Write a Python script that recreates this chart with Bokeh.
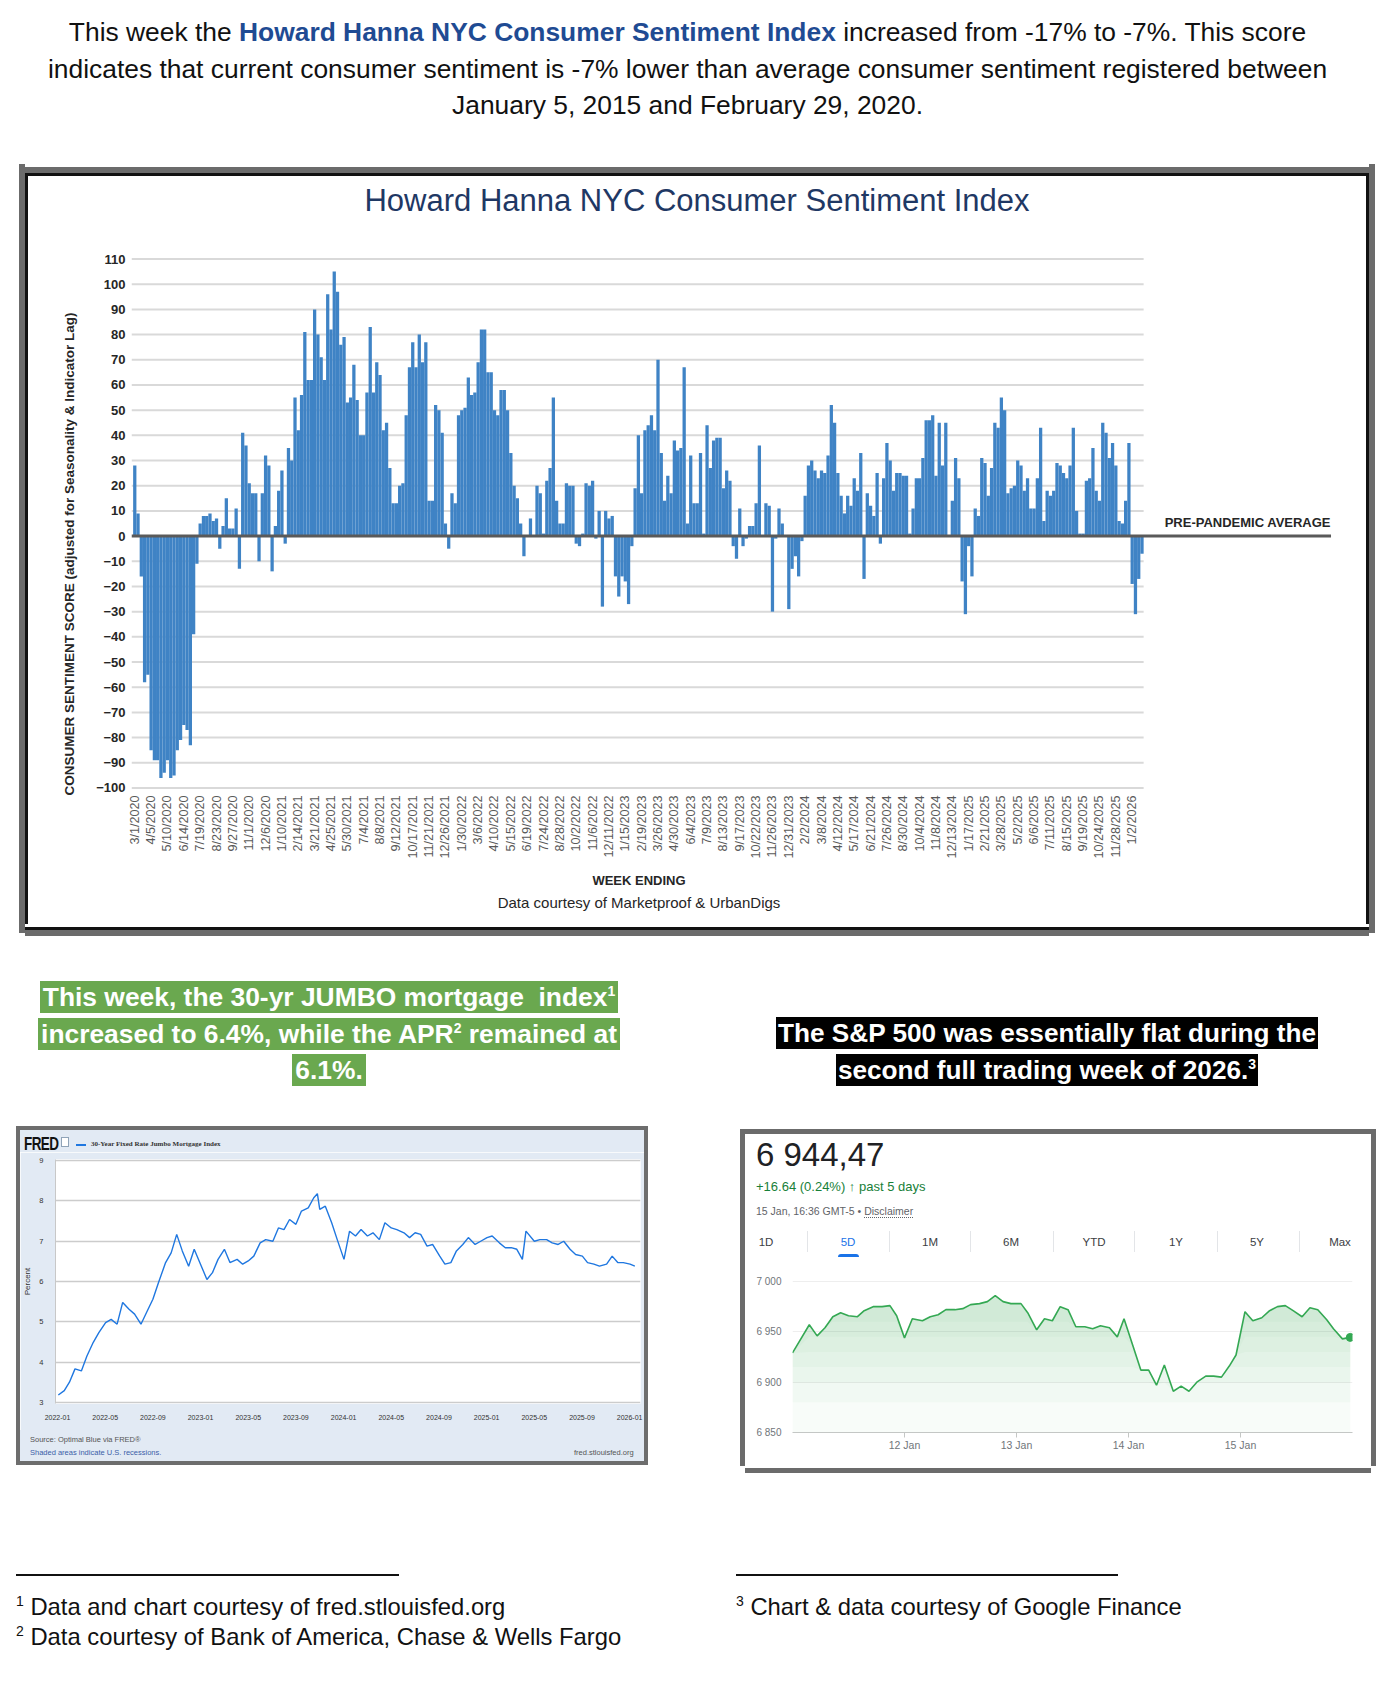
import numpy as np
from math import pi
from bokeh.plotting import figure
from bokeh.models import Div, Spacer, FixedTicker, Range1d, Title
from bokeh.layouts import column, row
from bokeh.embed import file_html
from bokeh.resources import INLINE
from bokeh.core.properties import value

FONT = "Liberation Sans"
CSSFONT = "'Liberation Sans', Arial, sans-serif"

# ---------------- data: Howard Hanna NYC Consumer Sentiment Index (weekly) ----------------
hh_scores = [
    28, 9, -16, -58, -55, -85, -89, -89, -96, -94, -89, -96, -95, -85, -81, -75, -77, -83, -39, -11,
    5, 8, 8, 9, 6, 7, -5, 4, 15, 3, 3, 11, -13, 41, 36, 21, 17, 17, -10, 17,
    32, 28, -14, 4, 18, 26, -3, 35, 30, 55, 42, 56, 81, 62, 62, 90, 80, 71, 62, 96,
    82, 105, 97, 76, 79, 53, 55, 68, 54, 40, 40, 57, 83, 57, 69, 64, 42, 45, 27, 13,
    13, 20, 21, 48, 67, 77, 67, 80, 69, 77, 14, 14, 52, 50, 41, 5, -5, 17, 13, 48,
    50, 51, 63, 56, 57, 69, 82, 82, 65, 65, 50, 48, 58, 58, 50, 33, 20, 15, 5, -8,
    0, 7, 0, 20, 17, 1, 22, 27, 55, 14, 5, 5, 21, 20, 20, -3, -4, 1, 21, 20,
    22, -1, 10, -28, 10, 7, 8, -16, -24, -16, -18, -27, -4, 19, 40, 17, 42, 44, 48, 42,
    70, 33, 14, 24, 17, 38, 34, 35, 67, 5, 32, 13, 13, 33, 1, 44, 27, 38, 39, 39,
    19, 26, 22, -4, -9, 11, -4, -1, 4, 4, 13, 36, 0, 13, 12, -30, -1, 11, 5, 0,
    -29, -13, -8, -16, -2, 16, 28, 30, 26, 23, 26, 25, 32, 52, 45, 25, 16, 9, 16, 12,
    23, 18, 33, -17, 17, 12, 8, 25, -3, 23, 37, 30, 18, 25, 25, 24, 24, 1, 11, 23,
    23, 31, 46, 46, 48, 24, 45, 28, 45, 0, 14, 31, 23, -18, -31, -4, -16, 11, 8, 31,
    29, 16, 27, 45, 43, 55, 50, 17, 19, 20, 30, 28, 18, 23, 11, 11, 23, 43, 6, 18,
    16, 18, 29, 28, 25, 23, 28, 43, 10, 1, 1, 22, 23, 35, 18, 14, 45, 41, 31, 37,
    28, 6, 5, 14, 37, -19, -31, -17, -7,
]
hh_week_labels = [
    "3/1/2020", "4/5/2020", "5/10/2020", "6/14/2020", "7/19/2020", "8/23/2020", "9/27/2020", "11/1/2020", "12/6/2020",
    "1/10/2021", "2/14/2021", "3/21/2021", "4/25/2021", "5/30/2021", "7/4/2021", "8/8/2021", "9/12/2021", "10/17/2021",
    "11/21/2021", "12/26/2021",
    "1/30/2022", "3/6/2022", "4/10/2022", "5/15/2022", "6/19/2022", "7/24/2022", "8/28/2022", "10/2/2022", "11/6/2022",
    "12/11/2022",
    "1/15/2023", "2/19/2023", "3/26/2023", "4/30/2023", "6/4/2023", "7/9/2023", "8/13/2023", "9/17/2023", "10/22/2023",
    "11/26/2023", "12/31/2023",
    "2/2/2024", "3/8/2024", "4/12/2024", "5/17/2024", "6/21/2024", "7/26/2024", "8/30/2024", "10/4/2024", "11/8/2024",
    "12/13/2024",
    "1/17/2025", "2/21/2025", "3/28/2025", "5/2/2025", "6/6/2025", "7/11/2025", "8/15/2025", "9/19/2025", "10/24/2025",
    "11/28/2025",
    "1/2/2026",
]
hh_y_ticks = list(range(-100, 111, 10))

# ---------------- data: FRED 30-Year Fixed Rate Jumbo Mortgage Index ----------------
fred_dates = [
    "2022-01-03", "2022-01-18", "2022-02-01", "2022-02-15", "2022-03-01", "2022-03-15", "2022-04-01", "2022-04-15",
    "2022-05-02", "2022-05-16", "2022-06-01", "2022-06-15", "2022-07-01", "2022-07-15", "2022-08-01", "2022-08-15",
    "2022-09-01", "2022-09-15", "2022-10-03", "2022-10-17", "2022-11-01", "2022-11-15", "2022-12-01", "2022-12-15",
    "2023-01-03", "2023-01-17", "2023-02-01", "2023-02-15", "2023-03-01", "2023-03-15", "2023-04-03", "2023-04-17",
    "2023-05-01", "2023-05-15", "2023-06-01", "2023-06-15", "2023-07-03", "2023-07-17", "2023-08-01", "2023-08-15",
    "2023-09-01", "2023-09-15", "2023-10-02", "2023-10-16", "2023-10-25", "2023-11-01", "2023-11-15", "2023-12-01",
    "2023-12-15",
    "2024-01-02", "2024-01-16", "2024-02-01", "2024-02-15", "2024-03-01", "2024-03-15", "2024-04-01", "2024-04-15",
    "2024-05-01", "2024-05-15", "2024-06-03", "2024-06-17", "2024-07-01", "2024-07-15", "2024-08-01", "2024-08-15",
    "2024-09-03", "2024-09-16", "2024-10-01", "2024-10-15", "2024-11-01", "2024-11-15", "2024-12-02", "2024-12-16",
    "2025-01-02", "2025-01-15", "2025-02-03", "2025-02-18", "2025-03-03", "2025-03-17", "2025-04-01", "2025-04-10",
    "2025-05-01", "2025-05-15", "2025-06-02", "2025-06-16", "2025-07-01", "2025-07-15", "2025-08-01", "2025-08-15",
    "2025-09-02", "2025-09-15", "2025-10-01", "2025-10-15", "2025-11-03", "2025-11-17", "2025-12-01", "2025-12-15",
    "2026-01-02", "2026-01-14",
]
fred_rates = [
    3.18, 3.29, 3.50, 3.83, 3.78, 4.15, 4.49, 4.73,
    4.98, 5.06, 4.94, 5.48, 5.31, 5.19, 4.94, 5.23,
    5.56, 5.97, 6.47, 6.71, 7.17, 6.76, 6.38, 6.80,
    6.38, 6.05, 6.22, 6.55, 6.80, 6.47, 6.55, 6.43,
    6.51, 6.63, 6.96, 7.04, 7.00, 7.33, 7.29, 7.54,
    7.42, 7.75, 7.83, 8.08, 8.18, 7.79, 7.87, 7.46,
    7.04,
    6.55, 7.25, 7.13, 7.29, 7.13, 7.21, 7.04, 7.46,
    7.33, 7.29, 7.21, 7.09, 7.21, 7.17, 6.88, 6.92,
    6.63, 6.43, 6.47, 6.76, 6.92, 7.09, 6.92, 7.00,
    7.09, 7.13, 6.96, 6.84, 6.84, 6.80, 6.55, 7.25,
    7.00, 7.04, 7.04, 6.96, 6.92, 7.00, 6.80, 6.67,
    6.63, 6.47, 6.43, 6.38, 6.43, 6.63, 6.47, 6.47,
    6.43, 6.38,
]
fred_tick_labels = ["2022-01", "2022-05", "2022-09", "2023-01", "2023-05", "2023-09", "2024-01", "2024-05",
                    "2024-09", "2025-01", "2025-05", "2025-09", "2026-01"]
fred_y_ticks = [3, 4, 5, 6, 7, 8, 9]

# ---------------- data: S&P 500, 5 days (trading-day position, index level) ----------------
spx_day = [0.0, 0.15, 0.22, 0.29, 0.36, 0.43, 0.5, 0.58, 0.64, 0.72,
           0.8, 0.87, 0.93, 1.0, 1.07, 1.16, 1.23, 1.3, 1.37, 1.45,
           1.52, 1.59, 1.67, 1.74, 1.81, 1.88, 1.95, 2.04, 2.1, 2.18,
           2.25, 2.32, 2.39, 2.46, 2.53, 2.61, 2.68, 2.75, 2.83, 2.9,
           2.96, 3.04, 3.11, 3.18, 3.25, 3.32, 3.4, 3.47, 3.54, 3.61,
           3.69, 3.76, 3.83, 3.9, 3.96, 4.04, 4.11, 4.19, 4.26, 4.33,
           4.4, 4.47, 4.55, 4.62, 4.69, 4.77, 4.83, 4.91, 4.98]
spx_value = [6929, 6957, 6946, 6954, 6965, 6969, 6966, 6965, 6971, 6975,
             6975, 6976, 6966, 6944, 6963, 6961, 6965, 6967, 6972, 6972,
             6973, 6977, 6978, 6980, 6986, 6980, 6978, 6978, 6969, 6952,
             6963, 6961, 6975, 6972, 6955, 6955, 6953, 6956, 6954, 6945,
             6963, 6936, 6912, 6912, 6897, 6917, 6891, 6896, 6891, 6900,
             6906, 6906, 6905, 6916, 6927, 6970, 6961, 6964, 6971, 6975,
             6976, 6971, 6965, 6974, 6972, 6962, 6953, 6943, 6944.47]
spx_day_ticks = [1, 2, 3, 4]
spx_day_labels = ["12 Jan", "13 Jan", "14 Jan", "15 Jan"]
spx_y_ticks = [6850, 6900, 6950, 7000]
spx_y_labels = ["6 850", "6 900", "6 950", "7 000"]
spx_tabs = ["1D", "5D", "1M", "6M", "YTD", "1Y", "5Y", "Max"]


# ---------------- helpers ----------------
def solid(w, h, color):
    return Div(text=f'<div style="width:{w}px;height:{h}px;background:{color};"></div>',
               width=w, height=h, margin=0)


def strip(w, layers):
    h = sum(t for t, _ in layers)
    inner = "".join(f'<div style="width:{w}px;height:{t}px;background:{c};"></div>' for t, c in layers)
    return Div(text=f'<div style="width:{w}px;height:{h}px;">{inner}</div>', width=w, height=h, margin=0)


def html(text, w, h):
    return Div(text=text, width=w, height=h, margin=0)


GREY = "#6b6b6b"

# ---------------- top paragraph ----------------
top_div = html(
    f'<div style="width:1359px;text-align:center;font-family:{CSSFONT};font-size:26.4px;line-height:36.5px;'
    f'color:#111;padding-top:6px;">This week the <span style="color:#1f4b93;font-weight:bold">Howard Hanna NYC '
    f'Consumer Sentiment Index</span> increased from -17% to -7%. This score<br>indicates that current consumer '
    f'sentiment is -7% lower than average consumer sentiment registered between<br>January 5, 2015 and February '
    f'29, 2020.</div>', 1376, 156)

# ---------------- Howard Hanna chart ----------------
n = len(hh_scores)
idx = list(range(n))
x_lo = -1.0
bars_end = n - 0.5
label_end = n + 56.8

p = figure(width=1338, height=627, x_range=Range1d(x_lo, n + 59.7), y_range=Range1d(-101, 111),
           output_backend="svg", toolbar_location=None, min_border_left=103, min_border_right=26,
           min_border_top=13, min_border_bottom=80, outline_line_color=None,
           background_fill_color="white", border_fill_color="white", margin=0)
p.xgrid.visible = False
p.ygrid.visible = False
grid_vals = [v for v in hh_y_ticks if v != 0]
p.segment(x0=[x_lo] * len(grid_vals), x1=[bars_end] * len(grid_vals), y0=grid_vals, y1=grid_vals,
          line_color="#d9d9d9", line_width=2)
p.vbar(x=idx, top=hh_scores, bottom=0, width=1.0, fill_color="#3f83c5", line_color=None)
p.segment(x0=[x_lo], x1=[label_end], y0=[0], y1=[0], line_color="#5a5a5a", line_width=3)
p.text(x=[label_end], y=[2.3], text=["PRE-PANDEMIC AVERAGE"], text_align="right", text_baseline="bottom",
       text_font=value(FONT), text_font_size="13px", text_font_style="bold", text_color="#262626")

ya = p.yaxis[0]
ya.ticker = FixedTicker(ticks=hh_y_ticks, minor_ticks=[])
ya.axis_line_color = None
ya.major_tick_line_color = None
ya.minor_tick_line_color = None
ya.major_tick_out = 0
ya.major_tick_in = 0
ya.major_label_standoff = 6
ya.major_label_text_font = FONT
ya.major_label_text_font_size = "13px"
ya.major_label_text_font_style = "bold"
ya.major_label_text_color = "#262626"

ytitle = Title(text="CONSUMER SENTIMENT SCORE (adjusted for Seasonality & Indicator Lag)",
               align="left", offset=-5, standoff=33, text_font=FONT, text_font_size="13.5px",
               text_font_style="bold", text_color="#262626")
p.add_layout(ytitle, "left")

xa = p.xaxis[0]
tick_pos = [i * 5 for i in range(len(hh_week_labels))]
xa.ticker = FixedTicker(ticks=tick_pos, minor_ticks=[])
xa.major_label_overrides = {t: lab for t, lab in zip(tick_pos, hh_week_labels)}
xa.major_label_orientation = pi / 2
xa.axis_line_color = None
xa.major_tick_line_color = None
xa.minor_tick_line_color = None
xa.major_tick_out = 0
xa.major_tick_in = 0
xa.major_label_standoff = 5
xa.major_label_text_font = FONT
xa.major_label_text_font_size = "12.6px"
xa.major_label_text_color = "#595959"

hh_title = html(
    f'<div style="width:1338px;text-align:center;font-family:{CSSFONT};font-size:31px;line-height:36px;'
    f'color:#1f3864;padding-top:10px;">Howard Hanna NYC Consumer Sentiment Index</div>', 1338, 70)
hh_caption = html(
    f'<div style="width:1222px;text-align:center;font-family:{CSSFONT};color:#262626;">'
    f'<div style="font-size:13px;font-weight:bold;line-height:22px;">WEEK ENDING</div>'
    f'<div style="font-size:15px;line-height:22px;">Data courtesy of Marketproof &amp; UrbanDigs</div></div>',
    1338, 54)
hh_inner = column(hh_title, p, hh_caption, spacing=0, margin=0)
hh_mid = column(
    strip(1344, [(6, GREY), (3, "#111111")]),
    row(solid(3, 751, "#111111"), hh_inner, solid(3, 751, "#111111"), spacing=0, margin=0),
    strip(1344, [(3, "#111111"), (6, GREY)]),
    spacing=0, margin=0)
hh_box = row(solid(6, 769, GREY), hh_mid, solid(6, 769, GREY), spacing=0, margin=0)

# ---------------- green / black headlines ----------------
green_div = html(
    f'<div style="width:642px;text-align:center;font-family:{CSSFONT};font-weight:bold;font-size:26.4px;'
    f'line-height:36.5px;color:#fff;padding-top:46px;">'
    f'<span style="background:#6aa84f;padding:1px 3px;">This week, the 30-yr JUMBO mortgage&nbsp; index'
    f'<sup style="font-size:14px;line-height:0;">1</sup></span><br>'
    f'<span style="background:#6aa84f;padding:1px 3px;">increased to 6.4%, while the APR'
    f'<sup style="font-size:14px;line-height:0;">2</sup> remained at</span><br>'
    f'<span style="background:#6aa84f;padding:1px 3px;">6.1%.</span></div>', 642, 193)

black_div = html(
    f'<div style="width:630px;text-align:center;font-family:{CSSFONT};font-weight:bold;font-size:26.2px;'
    f'line-height:36.5px;color:#fff;padding-top:82px;">'
    f'<span style="background:#000;padding:1px 2px;">The S&amp;P 500 was essentially flat during the</span><br>'
    f'<span style="background:#000;padding:1px 2px;">second full trading week of 2026.'
    f'<sup style="font-size:14px;line-height:0;">3</sup></span></div>', 630, 196)

# ---------------- FRED chart ----------------
FRED_BG = "#e2eaf4"
FGREY = "#6d6d6d"
fx = [(int(d[:4]) - 2022) * 12 + int(d[5:7]) - 1 + (int(d[8:10]) - 1) / 30.0 for d in fred_dates]
f = figure(width=624, height=278, x_range=Range1d(-0.17, 48.91), y_range=Range1d(2.97, 9.03),
           output_backend="svg", toolbar_location=None, min_border_left=32, min_border_right=4,
           min_border_top=7, min_border_bottom=27, outline_line_color=None,
           background_fill_color="white", border_fill_color=FRED_BG, margin=0)
f.line(fx, fred_rates, line_color="#1f77e0", line_width=1.4)
f.xgrid.visible = False
fya = f.yaxis[0]
fya.ticker = FixedTicker(ticks=fred_y_ticks, minor_ticks=[])
f.ygrid.grid_line_color = "#cccccc"
f.ygrid.grid_line_width = 1.5
fya.axis_line_color = "#c8c8c8"
fya.major_tick_line_color = None
fya.major_tick_out = 0
fya.major_tick_in = 0
fya.major_label_standoff = 12
fya.major_label_text_font = FONT
fya.major_label_text_font_size = "7.5px"
fya.major_label_text_color = "#333333"
fya.axis_label = "Percent"
fya.axis_label_text_font = FONT
fya.axis_label_text_font_size = "8px"
fya.axis_label_text_font_style = "normal"
fya.axis_label_text_color = "#333333"
fya.axis_label_standoff = 4
fxa = f.xaxis[0]
fticks = [i * 4 for i in range(len(fred_tick_labels))]
fxa.ticker = FixedTicker(ticks=fticks, minor_ticks=[])
fxa.major_label_overrides = {t: lab for t, lab in zip(fticks, fred_tick_labels)}
fxa.axis_line_color = None
fxa.major_tick_line_color = None
fxa.major_tick_out = 0
fxa.major_tick_in = 0
fxa.major_label_standoff = 11
fxa.major_label_text_font = FONT
fxa.major_label_text_font_size = "7px"
fxa.major_label_text_color = "#333333"

fred_head = html(
    f'<div style="position:relative;width:624px;height:26px;background:{FRED_BG};font-family:{CSSFONT};">'
    f'<div style="position:absolute;left:0;top:0;width:624px;height:4px;background:{FGREY};"></div>'
    f'<div style="position:absolute;left:4px;top:8px;font-size:13.5px;line-height:15px;font-weight:bold;'
    f'letter-spacing:-0.6px;color:#111;transform:scaleY(1.3);transform-origin:0 0;">FRED</div>'
    f'<div style="position:absolute;left:41px;top:11px;width:8px;height:10px;border:1px solid #8fa3b8;'
    f'background:#fff;"></div>'
    f'<div style="position:absolute;left:56px;top:18px;width:10px;height:2px;background:#1f77e0;"></div>'
    f'<div style="position:absolute;left:71px;top:13px;font-family:\'Liberation Serif\',serif;font-weight:bold;'
    f'font-size:7px;line-height:10px;color:#333;white-space:nowrap;">30-Year Fixed Rate Jumbo Mortgage Index</div>'
    f'</div>', 624, 26)
fred_foot = html(
    f'<div style="position:relative;width:624px;height:35px;background:{FRED_BG};font-family:{CSSFONT};'
    f'font-size:7.5px;line-height:10px;white-space:nowrap;">'
    f'<div style="position:absolute;left:10px;top:5px;color:#555;">Source: Optimal Blue via FRED&reg;</div>'
    f'<div style="position:absolute;left:10px;top:18px;color:#3b5ea8;">Shaded areas indicate U.S. recessions.</div>'
    f'<div style="position:absolute;left:554px;top:18px;color:#555;">fred.stlouisfed.org</div>'
    f'<div style="position:absolute;left:0;top:31px;width:624px;height:4px;background:{FGREY};"></div>'
    f'</div>', 624, 35)
fred_inner = column(fred_head, f, fred_foot, spacing=0, margin=0)
fred_box = row(solid(4, 339, FGREY), fred_inner, solid(4, 339, FGREY), spacing=0, margin=0)

# ---------------- Google Finance chart ----------------
g = figure(width=626, height=199, x_range=Range1d(0, 5.0), y_range=Range1d(6850, 7011.9),
           output_backend="svg", toolbar_location=None, min_border_left=47, min_border_right=19,
           min_border_top=7, min_border_bottom=29, outline_line_color=None,
           background_fill_color="white", border_fill_color="white", margin=0)
sv = np.array(spx_value, dtype=float)
for lvl in [6850, 6880, 6900, 6915, 6930, 6945, 6960]:
    g.varea(x=spx_day, y1=sv, y2=np.minimum(sv, lvl), fill_color="#34a853", fill_alpha=0.035)
g.line(spx_day, spx_value, line_color="#34a853", line_width=1.6)
g.scatter([spx_day[-1]], [spx_value[-1]], size=8, fill_color="#34a853", line_color="#34a853")
g.xgrid.visible = False
gya = g.yaxis[0]
gya.ticker = FixedTicker(ticks=spx_y_ticks, minor_ticks=[])
gya.major_label_overrides = {t: lab for t, lab in zip(spx_y_ticks, spx_y_labels)}
g.ygrid.grid_line_color = "#eeeeee"
g.ygrid.grid_line_width = 1
gya.axis_line_color = None
gya.major_tick_line_color = None
gya.major_tick_out = 0
gya.major_tick_in = 0
gya.major_label_standoff = 11
gya.major_label_text_font = FONT
gya.major_label_text_font_size = "10px"
gya.major_label_text_color = "#70757a"
gxa = g.xaxis[0]
gxa.ticker = FixedTicker(ticks=spx_day_ticks, minor_ticks=[])
gxa.major_label_overrides = {t: lab for t, lab in zip(spx_day_ticks, spx_day_labels)}
gxa.axis_line_color = "#c4c7c5"
gxa.major_tick_line_color = "#c4c7c5"
gxa.major_tick_in = 0
gxa.major_tick_out = 5
gxa.major_label_standoff = 1
gxa.major_label_text_font = FONT
gxa.major_label_text_font_size = "10.5px"
gxa.major_label_text_color = "#70757a"

tab_centers = [21, 103, 185, 266, 349, 431, 512, 595]
sep_lefts = [62, 144, 225, 308, 389, 472, 554]
T = 5
tabs_html = ""
for lab, cx in zip(spx_tabs, tab_centers):
    col = "#1a73e8" if lab == "5D" else "#3c4043"
    tabs_html += (f'<div style="position:absolute;left:{cx - 30}px;top:{100 + T}px;width:60px;text-align:center;'
                  f'font-size:11.5px;line-height:16px;color:{col};">{lab}</div>')
for sx in sep_lefts:
    tabs_html += (f'<div style="position:absolute;left:{sx}px;top:{97 + T}px;width:1px;height:21px;'
                  f'background:#e3e5e8;"></div>')
tabs_html += (f'<div style="position:absolute;left:93px;top:{120 + T}px;width:21px;height:3px;background:#1a73e8;'
              f'border-radius:3px 3px 0 0;"></div>')
g_head = html(
    f'<div style="position:relative;width:626px;height:{128 + T}px;background:#fff;font-family:{CSSFONT};'
    f'white-space:nowrap;">'
    f'<div style="position:absolute;left:0;top:0;width:626px;height:{T}px;background:{GREY};"></div>'
    f'<div style="position:absolute;left:11px;top:{1 + T}px;font-size:33px;line-height:40px;color:#202124;">'
    f'6 944,47</div>'
    f'<div style="position:absolute;left:11px;top:{45 + T}px;font-size:13px;line-height:16px;color:#188038;">'
    f'+16.64 (0.24%) &#8593; past 5 days</div>'
    f'<div style="position:absolute;left:11px;top:{70 + T}px;font-size:10.5px;line-height:14px;color:#5f6368;">'
    f'15 Jan, 16:36 GMT-5 &bull; <span style="border-bottom:1px dotted #5f6368;">Disclaimer</span></div>'
    f'{tabs_html}</div>', 626, 128 + T)
g_inner = column(g_head, g, strip(626, [(T, GREY)]), spacing=0, margin=0)
g_box = row(solid(T, 337, GREY), g_inner, solid(T, 337, GREY), spacing=0, margin=0)

# ---------------- footnotes ----------------
foot_left = html(
    f'<div style="position:relative;width:724px;height:217px;font-family:{CSSFONT};font-size:23.8px;color:#111;'
    f'white-space:nowrap;">'
    f'<div style="position:absolute;left:8px;top:109px;width:383px;height:2px;background:#111;"></div>'
    f'<div style="position:absolute;left:8px;top:127px;line-height:30px;">'
    f'<sup style="font-size:14px;line-height:0;">1</sup> Data and chart courtesy of fred.stlouisfed.org</div>'
    f'<div style="position:absolute;left:8px;top:157px;line-height:30px;">'
    f'<sup style="font-size:14px;line-height:0;">2</sup> Data courtesy of Bank of America, Chase &amp; Wells Fargo</div>'
    f'</div>', 724, 217)
foot_right = html(
    f'<div style="position:relative;width:652px;height:216px;font-family:{CSSFONT};font-size:23.8px;color:#111;'
    f'white-space:nowrap;">'
    f'<div style="position:absolute;left:4px;top:108px;width:382px;height:2px;background:#111;"></div>'
    f'<div style="position:absolute;left:4px;top:126px;line-height:30px;">'
    f'<sup style="font-size:14px;line-height:0;">3</sup> Chart &amp; data courtesy of Google Finance</div>'
    f'</div>', 652, 216)

left_col = column(green_div, row(Spacer(width=8, height=339, margin=0), fred_box, spacing=0, margin=0),
                  foot_left, spacing=0, margin=0)
right_col = column(black_div, row(Spacer(width=8, height=337, margin=0), g_box, spacing=0, margin=0),
                   foot_right, spacing=0, margin=0)

content = column(Spacer(width=1376, height=8, margin=0),
                 top_div,
                 row(Spacer(width=11, height=769, margin=0), hh_box, spacing=0, margin=0),
                 row(left_col, right_col, spacing=0, margin=0),
                 spacing=0, margin=0)
page = row(Spacer(width=8, height=1682, margin=0), content, spacing=0, margin=0)

open("out.html", "w").write(file_html(page, INLINE, "Weekly market update"))
